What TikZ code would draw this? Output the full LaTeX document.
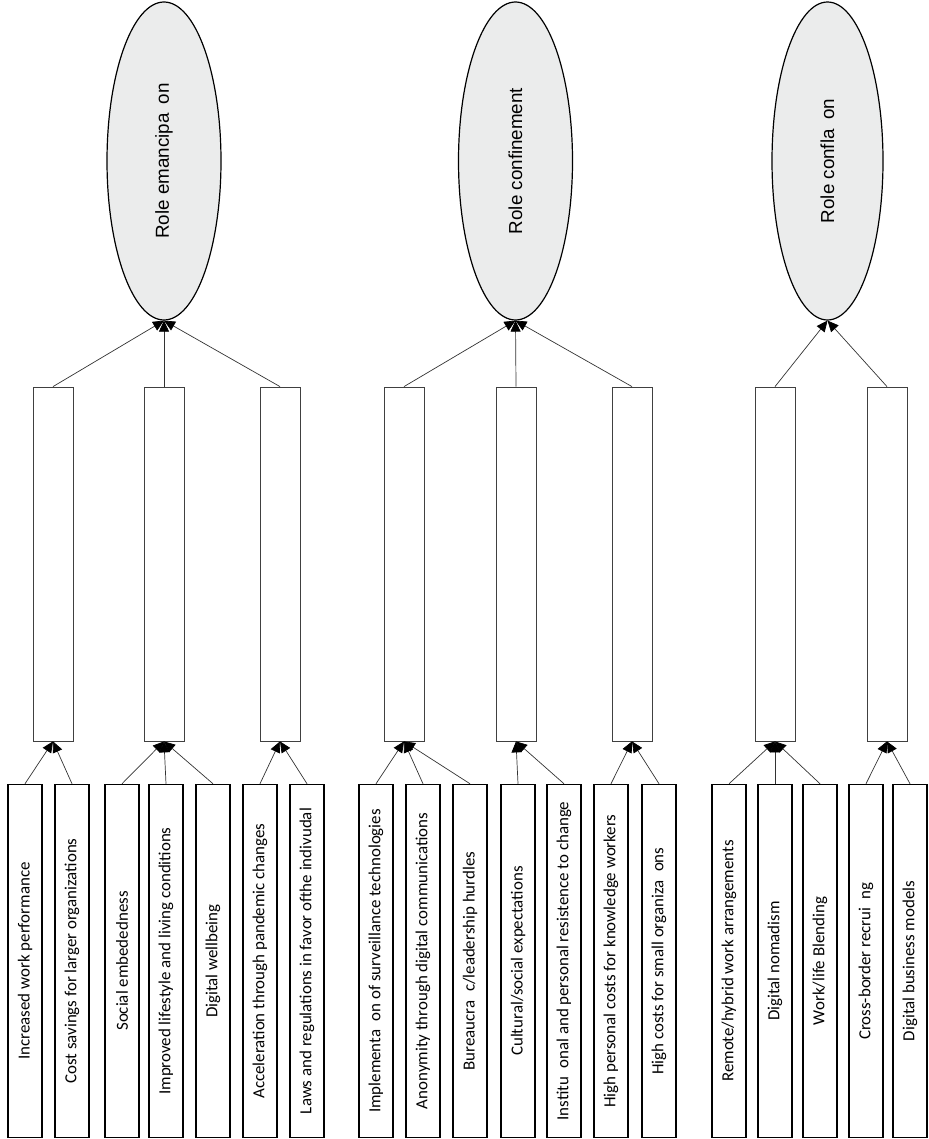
\documentclass[tikz,border=0pt]{standalone}
\usepackage{fontspec}
\setmainfont{Carlito}
\newfontfamily\ellfont{Liberation Sans}
\usetikzlibrary{shapes.geometric,arrows.meta}
\definecolor{ellfill}{RGB}{235,236,236}
\newcommand{\gp}{\hspace{0.5em}}
\begin{document}
\begin{tikzpicture}[x=1pt,y=-1pt,
  role/.style={ellipse,draw=black,line width=1.2pt,fill=ellfill,minimum width=114pt,minimum height=318pt,inner sep=0pt,font=\ellfont\fontsize{18.8}{21}\selectfont},
  mid/.style={rectangle,draw=black!75,line width=0.8pt,minimum width=40pt,minimum height=354pt,inner sep=0pt},
  factor/.style={rectangle,draw=black,line width=1.5pt,minimum width=34pt,minimum height=353pt,inner sep=0pt,font=\fontsize{16.9}{19}\selectfont},
  conn/.style={draw=black!80,line width=0.7pt,-{Triangle[length=11pt,width=10pt,color=black]}}
]
\useasboundingbox (0,0) rectangle (928,1139);
% ellipses
\node[role] (E1) at (164,161) {\rotatebox{90}{Role emancipa\gp on}};
\node[role] (E2) at (515.5,161) {\rotatebox{90}{Role confinement}};
\node[role,minimum width=111pt] (E3) at (827.5,161) {\rotatebox{90}{Role confla\gp on}};
% middle rectangles
\node[mid] (R1) at (53,564) {};
\node[mid] (R2) at (164,564) {};
\node[mid] (R3) at (280,564) {};
\node[mid] (R4) at (404,564) {};
\node[mid] (R5) at (516,564) {};
\node[mid] (R6) at (632,564) {};
\node[mid] (R7) at (775,564) {};
\node[mid] (R8) at (887,564) {};
% factor boxes
\node[factor] (B1) at (25,961) {\rotatebox{90}{Increased work performance}};
\node[factor] (B2) at (72,961) {\rotatebox{90}{Cost savings for larger organizations}};
\node[factor] (B3) at (122,961) {\rotatebox{90}{Social embededness}};
\node[factor] (B4) at (166,961) {\rotatebox{90}{Improved lifestyle and living conditions}};
\node[factor] (B5) at (213,961) {\rotatebox{90}{Digital wellbeing}};
\node[factor] (B6) at (260,961) {\rotatebox{90}{Acceleration through pandemic changes}};
\node[factor] (B7) at (307,961) {\rotatebox{90}{Laws and regulations in favor ofthe indivudal}};
\node[factor] (B8) at (376,961) {\rotatebox{90}{Implementa\gp on of surveillance technologies}};
\node[factor] (B9) at (423,961) {\rotatebox{90}{Anonymity through digital communications}};
\node[factor] (B10) at (470,961) {\rotatebox{90}{Bureaucra\gp c/leadership hurdles}};
\node[factor] (B11) at (518,961) {\rotatebox{90}{Cultural/social expectations}};
\node[factor] (B12) at (564,961) {\rotatebox{90}{Institu\gp onal and personal resistence to change}};
\node[factor] (B13) at (611,961) {\rotatebox{90}{High personal costs for knowledge workers}};
\node[factor] (B14) at (659,961) {\rotatebox{90}{High costs for small organiza\gp ons}};
\node[factor] (B15) at (729,961) {\rotatebox{90}{Remote/hybrid work arrangements}};
\node[factor] (B16) at (775,961) {\rotatebox{90}{Digital nomadism}};
\node[factor] (B17) at (820,961) {\rotatebox{90}{Work/life Blending}};
\node[factor] (B18) at (866,961) {\rotatebox{90}{Cross-border recrui\gp ng}};
\node[factor] (B19) at (910,961) {\rotatebox{90}{Digital business models}};
% connectors: factors to middle
\foreach \b/\r in {B1/R1,B2/R1,B3/R2,B4/R2,B5/R2,B6/R3,B7/R3,B8/R4,B9/R4,B10/R4,B11/R5,B12/R5,B13/R6,B14/R6,B15/R7,B16/R7,B17/R7,B18/R8,B19/R8}
  \draw[conn] (\b.north) -- (\r.south);
% connectors: middle to roles
\foreach \r/\e in {R1/E1,R2/E1,R3/E1,R4/E2,R5/E2,R6/E2,R7/E3,R8/E3}
  \draw[conn] (\r.north) -- (\e.south);
\end{tikzpicture}
\end{document}
